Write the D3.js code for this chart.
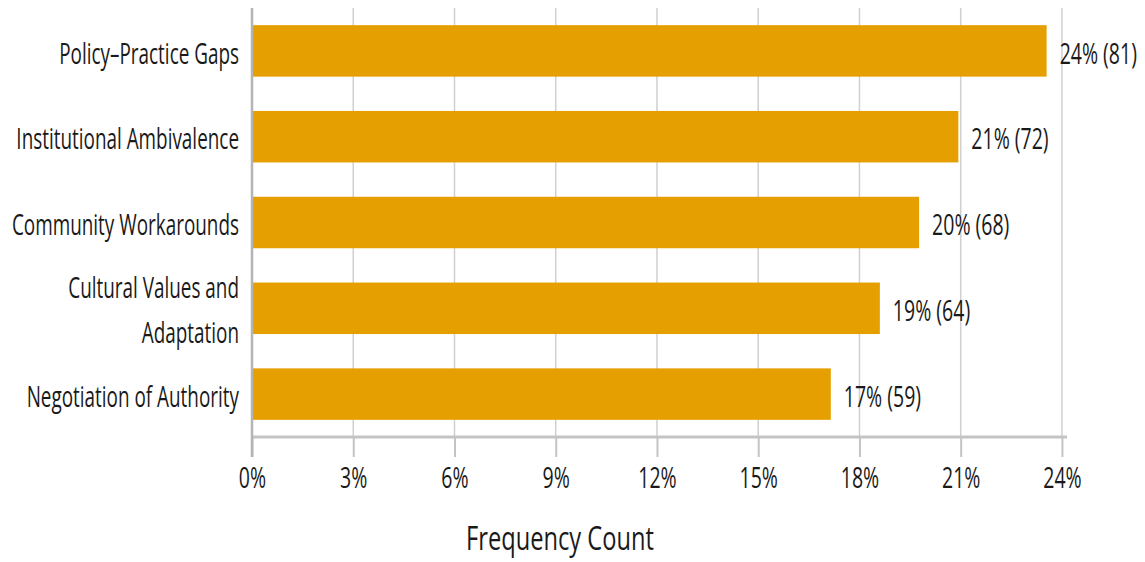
<!DOCTYPE html>
<html>
<head>
<meta charset="utf-8">
<script src="https://cdn.jsdelivr.net/npm/d3@7"></script>
<style>
  body { margin: 0; background: #fff; }
  text { font-family: "Open Sans", "Noto Sans", sans-serif; fill: #1a1a1a; }
</style>
</head>
<body>
<svg id="chart" width="1145" height="562"></svg>
<script>
// Theme categories and how many coded segments fell into each
const categories = [
  "Policy–Practice Gaps",
  "Institutional Ambivalence",
  "Community Workarounds",
  "Cultural Values and Adaptation",
  "Negotiation of Authority"
];
const categoryLines = [
  ["Policy–Practice Gaps"],
  ["Institutional Ambivalence"],
  ["Community Workarounds"],
  ["Cultural Values and", "Adaptation"],
  ["Negotiation of Authority"]
];
const counts = [81, 72, 68, 64, 59];
const tickPercents = [0, 3, 6, 9, 12, 15, 18, 21, 24];
const axisTitle = "Frequency Count";

const total = d3.sum(counts);
const shares = counts.map(c => c / total);

const plot = { left: 252, right: 1067, top: 8, bottom: 437 };
const FONT = 30;          // px
const SQUEEZE = 0.65;     // narrow, condensed lettering
const LABEL_SQUEEZE = 0.63;
const TITLE_SQUEEZE = 0.74;
const BAR = "#E69F00";
const GRID = "#d0d0d0";
const AXIS = "#c4c4c4";

const svg = d3.select("#chart");

const x = d3.scaleLinear().domain([0, 0.2415]).range([plot.left, plot.right]);
const y = d3.scaleBand()
  .domain(categories)
  .range([plot.top, plot.bottom])
  .paddingInner(0.4)
  .paddingOuter(0.2);

const tickVals = tickPercents.map(p => p / 100);

// vertical grid lines
svg.append("g").selectAll("line")
  .data(tickVals)
  .join("line")
  .attr("x1", d => x(d)).attr("x2", d => x(d))
  .attr("y1", plot.top).attr("y2", plot.bottom)
  .attr("stroke", GRID).attr("stroke-width", 1.5);

// bars
svg.append("g").selectAll("rect")
  .data(categories)
  .join("rect")
  .attr("x", x(0))
  .attr("y", d => y(d))
  .attr("width", (d, i) => x(shares[i]) - x(0))
  .attr("height", y.bandwidth())
  .attr("fill", BAR);

// bottom axis
const xAxis = d3.axisBottom(x)
  .tickValues(tickVals)
  .tickSize(20)
  .tickPadding(10)
  .tickFormat((d, i) => tickPercents[i] + "%");
const gx = svg.append("g")
  .attr("transform", `translate(0,${plot.bottom})`)
  .call(xAxis);
gx.select(".domain").attr("stroke", AXIS).attr("stroke-width", 3)
  .attr("d", `M${plot.left},0H${plot.right}`);
gx.selectAll(".tick line").attr("stroke", AXIS).attr("stroke-width", 2);
gx.selectAll(".tick text")
  .attr("font-size", FONT)
  .attr("font-family", null)
  .attr("fill", "#1a1a1a")
  .attr("transform", `scale(${SQUEEZE},1)`);

// left axis line
svg.append("line")
  .attr("x1", plot.left).attr("x2", plot.left)
  .attr("y1", plot.top).attr("y2", plot.bottom + 20)
  .attr("stroke", "#b4b4b4").attr("stroke-width", 2.5);

// category labels
const lineGap = 45;
const catG = svg.append("g").selectAll("g")
  .data(categories)
  .join("g")
  .attr("transform", d => `translate(${plot.left - 13},${y(d) + y.bandwidth() / 2}) scale(${LABEL_SQUEEZE},1)`);
catG.append("text")
  .attr("text-anchor", "end")
  .attr("font-size", FONT)
  .each(function (d, i) {
    const lines = categoryLines[i];
    const offset = -(lines.length - 1) * lineGap / 2;
    d3.select(this).selectAll("tspan")
      .data(lines)
      .join("tspan")
      .attr("x", 0)
      .attr("y", (l, j) => offset + j * lineGap)
      .attr("dy", "0.42em")
      .text(l => l);
  });

// value labels
svg.append("g").selectAll("g")
  .data(categories)
  .join("g")
  .attr("transform", (d, i) => `translate(${x(shares[i]) + 13},${y(d) + y.bandwidth() / 2}) scale(${SQUEEZE},1)`)
  .append("text")
  .attr("font-size", FONT)
  .attr("dy", "0.42em")
  .text((d, i) => `${Math.round(shares[i] * 100)}% (${counts[i]})`);

// axis title
svg.append("g")
  .attr("transform", `translate(560,550) scale(${TITLE_SQUEEZE},1)`)
  .append("text")
  .attr("text-anchor", "middle")
  .attr("font-size", FONT + 2)
  .text(axisTitle);
</script>
</body>
</html>
